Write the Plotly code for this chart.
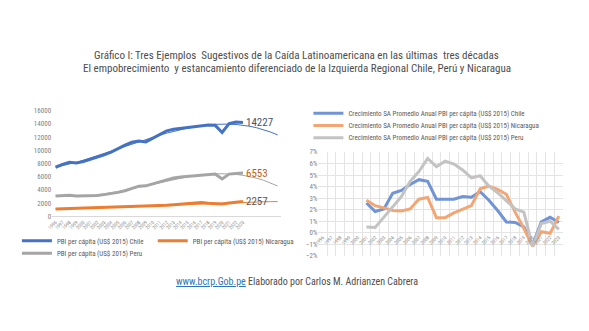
import numpy as np
import plotly.graph_objects as go

years = [1996, 1997, 1998, 1999, 2000, 2001, 2002, 2003, 2004, 2005, 2006, 2007, 2008, 2009,
         2010, 2011, 2012, 2013, 2014, 2015, 2016, 2017, 2018, 2019, 2020, 2021, 2022, 2023]

chile_pbi = [7440, 7880, 8180, 8070, 8320, 8620, 8920, 9300, 9740, 10280, 10780, 11220, 11420, 11280,
             11810, 12450, 12940, 13190, 13340, 13440, 13530, 13680, 13830, 13780, 12700, 14030, 14270, 14227]
nic_pbi = [1140, 1170, 1200, 1230, 1250, 1280, 1300, 1330, 1370, 1420, 1480, 1510, 1540, 1500,
           1540, 1620, 1700, 1770, 1840, 1900, 1980, 2120, 2010, 1920, 1880, 2040, 2110, 2257]
peru_pbi = [3100, 3150, 3200, 3100, 3100, 3100, 3150, 3300, 3440, 3640, 3890, 4190, 4580, 4630,
            4930, 5270, 5520, 5810, 5960, 6060, 6160, 6260, 6350, 6400, 5660, 6400, 6500, 6553]

chile_g = [None, None, None, None, None, 2.57, 1.84, 2.06, 3.42, 3.67, 4.18, 4.60, 4.46, 2.90,
           2.90, 2.90, 3.13, 3.08, 3.56, 2.82, 1.92, 0.93, 0.88, 0.50, -1.05, 0.93, 1.33, 0.88]
nic_g = [None, None, None, None, None, 2.82, 2.34, 2.15, 1.92, 1.89, 2.06, 2.90, 3.05, 1.30,
         1.30, 1.72, 2.06, 2.34, 3.81, 4.04, 3.76, 3.33, 1.78, 0.37, -1.20, 0.08, -0.06, 1.44]
peru_g = [None, None, None, None, None, 0.50, 0.45, 1.35, 2.20, 3.13, 4.46, 5.30, 6.44, 5.73,
          6.21, 5.96, 5.45, 4.75, 4.94, 4.04, 3.47, 2.77, 2.06, 1.78, -1.19, 0.79, 0.99, 0.28]

left_names = ["PBI per cápita (US$ 2015) Chile", "PBI per cápita (US$ 2015) Nicaragua",
              "PBI per cápita (US$ 2015) Peru"]
right_names = ["Crecimiento SA Promedio Anual PBI per cápita (US$ 2015) Chile",
               "Crecimiento SA Promedio Anual PBI per cápita (US$ 2015) Nicaragua",
               "Crecimiento SA Promedio Anual PBI per cápita (US$ 2015) Peru"]

title1 = "Gráfico I: Tres Ejemplos  Sugestivos de la Caída Latinoamericana en las últimas  tres décadas"
title2 = "El empobrecimiento  y estancamiento diferenciado de la Izquierda Regional Chile, Perú y Nicaragua"
footer_link = "www.bcrp.Gob.pe"
footer_text = "Elaborado por Carlos M. Adrianzen Cabrera"

W, H = 589, 331
FONT = "Liberation Sans Narrow, Roboto Condensed, Roboto, sans-serif"
left_cols = ["#4472C4", "#ED7D31", "#A5A5A5"]
right_cols = ["#7094D6", "#F3A673", "#C3C3C3"]
label_cols = ["#44546A", "#595959", "#C55A11"]

def px_x(p):
    return p / W

def px_y(p):
    return 1 - p / H

idx = list(range(len(years)))
n_fore = 5
fit_x = np.arange(0, len(years) + n_fore)

fig = go.Figure()
series_left = [chile_pbi, nic_pbi, peru_pbi]
legend_left = ["legend", "legend6", "legend3"]
for s, name, col, lg in zip(series_left, left_names, left_cols, legend_left):
    fig.add_trace(go.Scatter(x=idx, y=s, mode="lines", name=name, line=dict(color=col, width=3),
                             xaxis="x", yaxis="y", legend=lg))
for s, col in zip(series_left, left_cols):
    coef = np.polyfit(idx, s, 3)
    fig.add_trace(go.Scatter(x=fit_x, y=np.polyval(coef, fit_x), mode="lines", showlegend=False,
                             line=dict(color=col, width=1), xaxis="x", yaxis="y", hoverinfo="skip"))

series_right = [chile_g, nic_g, peru_g]
legend_right = ["legend2", "legend4", "legend5"]
for s, name, col, lg in zip(series_right, right_names, right_cols, legend_right):
    fig.add_trace(go.Scatter(x=idx, y=s, mode="lines", name=name, line=dict(color=col, width=3),
                             xaxis="x2", yaxis="y2", legend=lg, connectgaps=False))

for s, col in zip(series_left, label_cols):
    fig.add_annotation(x=idx[-1], y=s[-1], xref="x", yref="y", text=str(s[-1]), showarrow=False,
                       xanchor="left", xshift=1, font=dict(family=FONT, size=11, color=col))

tick_font = dict(family=FONT, size=7, color="#7F7F7F")
year_font = dict(family=FONT, size=5, color="#8C8C8C")

y0r = px_y(257.9)
y1r = px_y(151.7)
zero_pos = y0r + (y1r - y0r) * 2 / 9

leg_font = dict(family=FONT, size=7, color="#595959")

def leg(xp, yp):
    return dict(orientation="h", x=px_x(xp), y=px_y(yp), xanchor="left", yanchor="middle",
                itemwidth=30, bgcolor="rgba(0,0,0,0)", font=leg_font)

fig.update_layout(
    width=W, height=H, margin=dict(l=0, r=0, t=0, b=0),
    paper_bgcolor="white", plot_bgcolor="white",
    showlegend=True,
    xaxis=dict(domain=[px_x(47.5), px_x(278.5)], range=[-0.5, 32.5], tickmode="array",
               tickvals=idx, ticktext=[str(y) for y in years], tickangle=-45, tickfont=year_font,
               showgrid=False, zeroline=False, showline=True, linecolor="#D9D9D9", linewidth=1,
               ticks="", anchor="y"),
    yaxis=dict(domain=[px_y(217.7), px_y(109.3)], range=[0, 16000], tickmode="array",
               tickvals=[0, 2000, 4000, 6000, 8000, 10000, 12000, 14000, 16000], tickformat="d",
               tickfont=tick_font,
               showgrid=False, zeroline=False, showline=False, ticks="", anchor="x"),
    xaxis2=dict(domain=[px_x(316), px_x(563)], range=[-0.5, 27.5], tickmode="array",
                tickvals=idx, ticktext=[str(y) for y in years], tickangle=-45, tickfont=year_font,
                showgrid=False, zeroline=False, showline=False, ticks="", anchor="free",
                position=zero_pos,
                minor=dict(tickmode="array", tickvals=[i - 0.5 for i in range(len(years) + 1)],
                           showgrid=True, gridcolor="#E4E4E4", gridwidth=1, ticks="")),
    yaxis2=dict(domain=[y0r, y1r], range=[-2, 7], dtick=1, ticksuffix="%", tickfont=tick_font,
                showgrid=True, gridcolor="#E4E4E4", gridwidth=1, zeroline=False, showline=False,
                ticks="", anchor="x2"),
    legend=leg(12, 242.7),
    legend6=leg(149, 242.7),
    legend3=leg(12, 255.5),
    legend2=leg(306, 112),
    legend4=leg(306, 124.5),
    legend5=leg(306, 137),
)

fig.add_annotation(x=px_x(294), y=px_y(53), xref="paper", yref="paper", text=title1, showarrow=False,
                   xanchor="center", yanchor="middle", font=dict(family=FONT, size=11, color="#4D4D4D"))
fig.add_annotation(x=px_x(294), y=px_y(66.5), xref="paper", yref="paper", text=title2, showarrow=False,
                   xanchor="center", yanchor="middle", font=dict(family=FONT, size=11, color="#4D4D4D"))
fig.add_annotation(x=px_x(294), y=px_y(284), xref="paper", yref="paper",
                   text="<span style='color:#2E75B6;text-decoration:underline'>" + footer_link +
                        "</span> " + footer_text,
                   showarrow=False, xanchor="center", yanchor="middle",
                   font=dict(family=FONT, size=10, color="#4D4D4D"))

fig.write_html("out.html")
